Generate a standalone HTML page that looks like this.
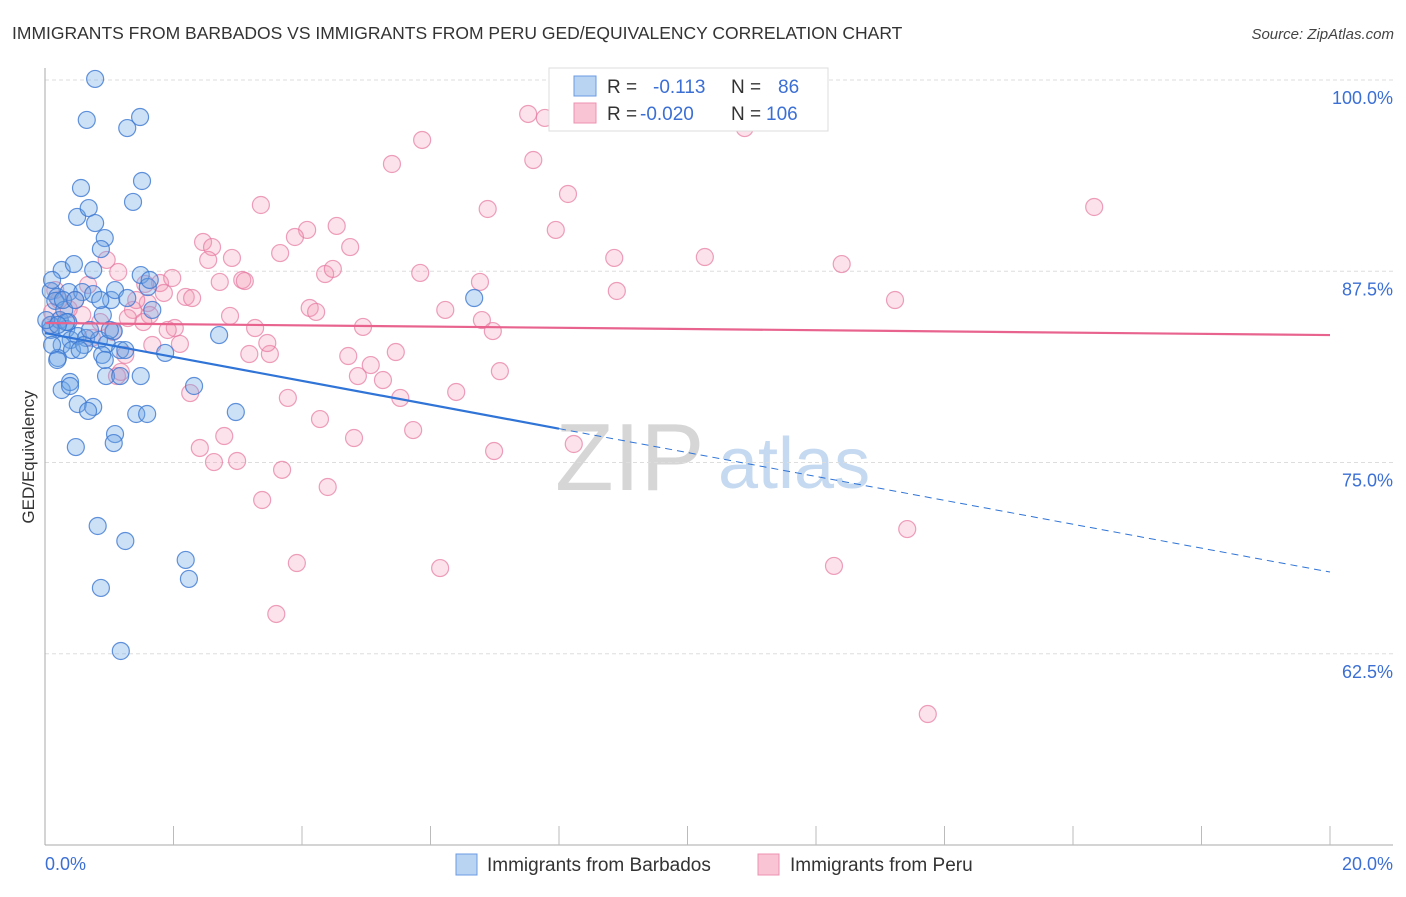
<!DOCTYPE html>
<html><head><meta charset="utf-8"><style>
body{margin:0;background:#fff;font-family:"Liberation Sans",sans-serif;}
svg text{font-family:"Liberation Sans",sans-serif;}
</style></head><body>
<svg id="chart" width="1406" height="892" xmlns="http://www.w3.org/2000/svg">
<text x="12" y="39" font-size="17.5" fill="#333">IMMIGRANTS FROM BARBADOS VS IMMIGRANTS FROM PERU GED/EQUIVALENCY CORRELATION CHART</text>
<text x="1394" y="39" font-size="15" fill="#444" text-anchor="end" font-style="italic">Source: ZipAtlas.com</text>
<g>
<text x="555" y="490" font-size="96" fill="#d6d6d6" font-family="Liberation Serif,serif">ZIP</text>
<text x="718" y="488" font-size="72" fill="#c5d9f0">atlas</text>
</g>
<g id="grid"></g>
<g id="axes"></g>
<g id="pts"></g>
<g id="trends"></g>
<text transform="translate(34,457) rotate(-90)" font-size="17" fill="#333" text-anchor="middle">GED/Equivalency</text>
<g>
<rect x="549" y="68" width="279" height="63" fill="#fff" stroke="#ddd"/>
<rect x="574" y="76" width="22" height="20" fill="#b9d3f3" stroke="#6a9be0"/>
<rect x="574" y="103" width="22" height="20" fill="#f9c4d4" stroke="#ec92b0"/>
<text x="607" y="93" font-size="19" fill="#333">R =</text>
<text x="653" y="93" font-size="19" fill="#3b6fd4">-0.113</text>
<text x="731" y="93" font-size="19" fill="#333">N =</text>
<text x="778" y="93" font-size="19" fill="#3b6fd4">86</text>
<text x="607" y="120" font-size="19" fill="#333">R =</text>
<text x="640" y="120" font-size="19" fill="#3b6fd4">-0.020</text>
<text x="731" y="120" font-size="19" fill="#333">N =</text>
<text x="766" y="120" font-size="19" fill="#3b6fd4">106</text>
</g>
<g>
<rect x="456" y="854" width="21" height="21" fill="#b9d3f3" stroke="#6a9be0"/>
<text x="487" y="871" font-size="19" fill="#333">Immigrants from Barbados</text>
<rect x="758" y="854" width="21" height="21" fill="#f9c4d4" stroke="#ec92b0"/>
<text x="790" y="871" font-size="19" fill="#333">Immigrants from Peru</text>
</g>
</svg>
<script>
const yTicks=[100,87.5,75,62.5];
const yTickLabels=["100.0%","87.5%","75.0%","62.5%"];
const xTickVals=[2,4,6,8,10,12,14,16,18,20];
const xLabels=["0.0%","20.0%"];
const blueX=[0.78,0.65,1.28,1.48,1.51,0.56,1.37,0.50,0.68,0.78,0.93,0.87,0.26,0.45,0.75,1.49,0.09,0.19,0.37,0.58,0.75,1.03,1.09,1.28,1.60,1.67,0.90,0.09,0.23,0.33,0.40,0.51,0.64,0.84,0.96,1.07,1.17,0.26,0.42,0.20,0.89,1.87,2.71,6.68,0.26,0.39,0.95,1.17,1.49,2.32,0.51,0.75,0.67,1.42,1.59,2.97,1.09,1.07,0.48,0.82,1.25,2.19,2.24,0.87,1.18,0.09,0.16,0.30,0.36,0.61,0.70,0.11,0.19,0.33,0.39,1.01,1.63,0.02,0.11,0.20,0.93,1.25,0.28,0.47,0.54,0.86];
const blueY=[100.07,97.39,96.86,97.58,93.40,92.94,92.03,91.05,91.63,90.65,89.67,88.95,87.58,87.97,87.58,87.25,86.21,85.82,86.14,86.14,86.01,85.62,86.27,85.75,86.47,84.97,84.64,83.99,84.31,83.73,83.01,83.27,83.14,83.01,82.75,83.59,82.35,82.68,82.35,81.83,82.03,82.16,83.33,85.75,79.74,80.26,80.65,80.65,80.65,80.00,78.82,78.63,78.37,78.17,78.17,78.30,76.86,76.27,76.01,70.85,69.87,68.63,67.39,66.80,62.68,83.66,85.56,84.97,84.18,82.68,83.66,82.68,81.70,84.18,80.00,83.66,86.93,84.31,86.93,83.99,81.70,82.35,85.62,85.62,82.35,85.62];
const pinkX=[7.52,7.78,10.89,9.49,5.87,5.40,7.60,8.14,3.36,6.89,16.33,7.95,4.54,4.08,3.89,2.46,2.60,2.91,3.66,2.54,4.75,0.96,1.14,1.79,1.98,3.07,2.72,3.11,4.36,4.48,5.84,6.77,8.86,10.27,12.40,8.90,13.23,1.56,2.19,2.29,1.85,1.60,1.37,1.63,2.88,4.12,4.22,6.23,6.80,6.97,4.95,3.27,2.02,1.91,1.53,1.29,1.06,0.86,0.73,0.58,0.37,0.22,0.11,0.08,1.25,1.67,2.10,3.18,3.50,3.46,4.72,5.07,5.46,4.87,5.26,7.08,1.12,1.18,2.26,3.78,5.53,6.40,4.28,5.73,4.81,6.99,8.23,2.79,2.41,2.63,2.99,3.69,4.40,3.38,13.42,3.92,6.15,12.28,3.60,13.74,0.23,0.47,0.67,1.42,0.16];
const pinkY=[97.78,97.52,96.86,98.04,96.08,94.51,94.77,92.55,91.83,91.57,91.70,90.20,90.46,90.20,89.74,89.41,89.08,88.37,88.69,88.24,89.08,88.24,87.45,86.73,87.06,86.93,86.80,86.86,87.32,87.65,87.39,86.80,88.37,88.43,87.97,86.21,85.62,86.67,85.82,85.75,86.08,85.42,84.97,84.64,84.58,85.10,84.84,84.97,84.31,83.59,83.86,83.79,83.79,83.66,84.18,84.44,83.53,84.18,83.14,84.64,85.03,85.62,84.84,83.99,82.03,82.68,82.75,82.09,82.09,82.81,81.96,81.37,82.22,80.65,80.39,80.97,80.65,80.92,79.54,79.22,79.22,79.61,77.84,77.12,76.60,75.75,76.21,76.73,75.95,75.03,75.10,74.52,73.40,72.55,70.65,68.43,68.10,68.24,65.10,58.56,84.31,85.62,86.60,85.62,86.27];
const blueTrend=[83.46,67.84];
const pinkTrend=[84.12,83.33];
const blueSolidEnd=8;

const NS="http://www.w3.org/2000/svg";
const X0=45,X1=1330,Y0=80,YB=845;
const xs=v=>X0+(v/20)*(X1-X0);
const ys=v=>Y0+(100-v)/50*(YB-Y0);
function mk(tag,at,parent){const e=document.createElementNS(NS,tag);for(const k in at)e.setAttribute(k,at[k]);parent.appendChild(e);return e;}
const grid=document.getElementById('grid'),axes=document.getElementById('axes'),pts=document.getElementById('pts'),tr=document.getElementById('trends');
yTicks.forEach((t,i)=>{
 const l=mk('line',{x1:X0,x2:1393,y1:ys(t),y2:ys(t),stroke:'#ddd','stroke-dasharray':'4,3'},grid);
 
 
 const tx=mk('text',{x:1393,y:ys(t)+24,'font-size':18,fill:'#3b6fd4','text-anchor':'end'},axes);
 tx.textContent=yTickLabels[i];
 
 
});
const ya=mk('line',{x1:X0,x2:X0,y1:68,y2:YB,stroke:'#aaa'},axes);


const xa=mk('line',{x1:X0,x2:1393,y1:YB,y2:YB,stroke:'#aaa'},axes);


xTickVals.forEach(t=>{
 const l=mk('line',{x1:xs(t),x2:xs(t),y1:826,y2:YB,stroke:'#bbb'},axes);
 
 
});
const xl0=mk('text',{x:45,y:870,'font-size':18,fill:'#3b6fd4'},axes);xl0.textContent=xLabels[0];


const xl1=mk('text',{x:1393,y:870,'font-size':18,fill:'#3b6fd4','text-anchor':'end'},axes);xl1.textContent=xLabels[1];


function dots(X,Y,fill,stroke,name){X.forEach((x,i)=>{
 const c=mk('circle',{cx:xs(x),cy:ys(Y[i]),r:8.5,fill:fill,stroke:stroke,'stroke-width':1.2},pts);
 
 
});}
dots(pinkX,pinkY,'rgba(245,150,180,0.28)','rgba(230,120,160,0.7)','peru-point');
dots(blueX,blueY,'rgba(110,165,230,0.35)','rgba(60,120,210,0.8)','barbados-point');
const bAt=v=>blueTrend[0]+(blueTrend[1]-blueTrend[0])*v/20;
const b1=mk('line',{x1:xs(0),y1:ys(blueTrend[0]),x2:xs(blueSolidEnd),y2:ys(bAt(blueSolidEnd)),stroke:'#2f74d6','stroke-width':2.2},tr);


const b2=mk('line',{x1:xs(blueSolidEnd),y1:ys(bAt(blueSolidEnd)),x2:xs(20),y2:ys(blueTrend[1]),stroke:'#2f74d6','stroke-width':1,'stroke-dasharray':'7,5'},tr);


const p1=mk('line',{x1:xs(0),y1:ys(pinkTrend[0]),x2:xs(20),y2:ys(pinkTrend[1]),stroke:'#e8648f','stroke-width':2.2},tr);


</script>
</body></html>
